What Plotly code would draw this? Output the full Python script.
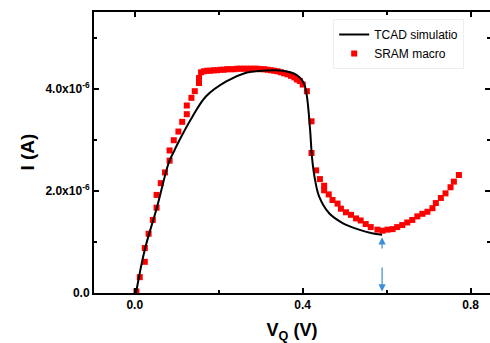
import plotly.graph_objects as go

# ---- data (V in volts, I in microamps -> scaled to A) ----
tcad_v = [0.003, 0.024, 0.053, 0.081, 0.095, 0.107, 0.138, 0.170, 0.218, 0.265, 0.289,
          0.337, 0.352, 0.370, 0.385, 0.395, 0.404, 0.410, 0.414, 0.418, 0.422, 0.428,
          0.439, 0.463, 0.495, 0.534, 0.565, 0.589]
tcad_i_u = [0.0, 0.85, 1.68, 2.55, 2.80, 3.00, 3.46, 3.85, 4.14, 4.31, 4.34,
            4.36, 4.35, 4.32, 4.27, 4.20, 4.08, 3.85, 3.55, 3.15, 2.67, 2.28,
            1.89, 1.56, 1.37, 1.24, 1.17, 1.14]

sram_v = [0.004, 0.012, 0.024, 0.024, 0.033, 0.043, 0.052, 0.052, 0.062, 0.072, 0.083,
          0.083, 0.093, 0.104, 0.113, 0.124, 0.124, 0.135, 0.143, 0.153, 0.153, 0.158,
          0.165, 0.172, 0.180, 0.188, 0.196, 0.204, 0.212, 0.220, 0.228, 0.236, 0.244,
          0.252, 0.260, 0.268, 0.276, 0.284, 0.292, 0.300, 0.308, 0.316, 0.324, 0.332,
          0.340, 0.348, 0.356, 0.364, 0.372, 0.380, 0.386, 0.393, 0.400, 0.410, 0.421,
          0.421, 0.432, 0.441, 0.451, 0.451, 0.462, 0.471, 0.483, 0.491, 0.503, 0.515,
          0.527, 0.538, 0.550, 0.562, 0.578, 0.590, 0.602, 0.614, 0.625, 0.637, 0.649,
          0.661, 0.673, 0.685, 0.697, 0.709, 0.717, 0.729, 0.740, 0.752, 0.760, 0.772]
sram_i_u = [0.03, 0.31, 0.61, 0.88, 1.16, 1.43, 1.67, 1.92, 2.15, 2.36, 2.59,
            2.79, 2.99, 3.16, 3.35, 3.50, 3.67, 3.82, 3.95, 4.11, 4.21, 4.32,
            4.34, 4.35, 4.35, 4.36, 4.36, 4.37, 4.37, 4.38, 4.38, 4.38, 4.39,
            4.39, 4.39, 4.39, 4.39, 4.39, 4.39, 4.38, 4.38, 4.37, 4.36, 4.35,
            4.34, 4.32, 4.30, 4.28, 4.25, 4.22, 4.18, 4.15, 4.08, 3.95, 3.36,
            2.74, 2.40, 2.23, 2.10, 2.01, 1.93, 1.82, 1.75, 1.65, 1.58, 1.53,
            1.46, 1.42, 1.35, 1.29, 1.24, 1.22, 1.24, 1.25, 1.29, 1.33, 1.38,
            1.43, 1.50, 1.55, 1.59, 1.66, 1.76, 1.86, 1.95, 2.07, 2.18, 2.31]

x_tickvals = [0.0, 0.4, 0.8]
x_ticktext = ["0.0", "0.4", "0.8"]
y_tickvals = [0.0, 2e-6, 4e-6]
y_ticktext = ["0.0", "2.0x10<sup>-6</sup>", "4.0x10<sup>-6</sup>"]

# arrows marking the valley: (V, I_tail, I_head) in microamps
arrow_v = [0.589, 0.589]
arrow_tail_u = [0.84, 0.53]
arrow_head_u = [1.09, 0.03]

tcad_i = [v * 1e-6 for v in tcad_i_u]
sram_i = [v * 1e-6 for v in sram_i_u]

FONT = "Arial, Liberation Sans, sans-serif"

fig = go.Figure()
fig.add_trace(go.Scatter(
    x=sram_v, y=sram_i, mode="markers", name="SRAM macro", legendrank=2,
    marker=dict(symbol="square", size=6, color="#ff0000", line=dict(width=0)),
))
fig.add_trace(go.Scatter(
    x=tcad_v, y=tcad_i, mode="lines", name="TCAD simulatio", legendrank=1,
    line=dict(color="black", width=2, shape="spline"),
))

for v, t, h in zip(arrow_v, arrow_tail_u, arrow_head_u):
    fig.add_annotation(
        x=v, y=h * 1e-6, ax=v, ay=t * 1e-6, xref="x", yref="y", axref="x", ayref="y",
        showarrow=True, arrowhead=2, arrowsize=1.2, arrowwidth=1.2, arrowcolor="#3a8fd8",
        text="",
    )

# y-axis title placed as a rotated text
fig.add_annotation(
    text="I (A)", xref="paper", yref="paper", x=-0.169, y=0.5,
    xanchor="center", yanchor="middle", textangle=-90, showarrow=False,
    font=dict(size=19, weight="bold", family=FONT, color="black"),
)

axis_font = dict(family=FONT, size=12, color="black", weight="bold")
fig.update_layout(
    width=490, height=343, autosize=False,
    margin=dict(l=94, r=0, t=12, b=50, pad=0),
    paper_bgcolor="white", plot_bgcolor="white",
    font=dict(family=FONT, color="black"),
    legend=dict(
        x=0.604, y=0.975, xanchor="left", yanchor="top",
        bgcolor="white", bordercolor="#eeeeee", borderwidth=1,
        font=dict(family=FONT, size=12, color="black"),
        tracegroupgap=0, itemwidth=30,
    ),
    xaxis=dict(
        range=[-0.097, 0.846], showgrid=False, zeroline=False, automargin=False,
        showline=True, linecolor="black", linewidth=2, mirror="allticks",
        ticks="inside", ticklen=5, tickwidth=1.5, tickcolor="black",
        tickmode="array", tickvals=x_tickvals, ticktext=x_ticktext,
        tickfont=axis_font,
        minor=dict(ticks="inside", ticklen=3, tickwidth=1.5, tickcolor="black", dtick=0.2, tick0=0),
        title=dict(text="V<sub>Q</sub> (V)", font=dict(size=18, weight="bold", family=FONT)),
    ),
    yaxis=dict(
        range=[0, 5.5e-6], showgrid=False, zeroline=False, automargin=False,
        showline=True, linecolor="black", linewidth=2, mirror="allticks",
        ticks="inside", ticklen=5, tickwidth=1.5, tickcolor="black",
        tickmode="array", tickvals=y_tickvals, ticktext=y_ticktext,
        tickfont=axis_font,
        minor=dict(ticks="inside", ticklen=3, tickwidth=1.5, tickcolor="black", dtick=1e-6, tick0=0),
    ),
)

fig.write_html("out.html")
